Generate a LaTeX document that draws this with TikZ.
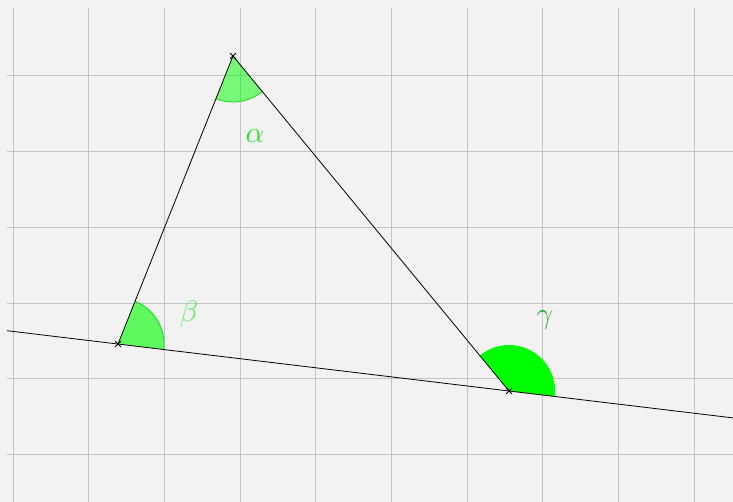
\documentclass[tikz,border=0pt]{standalone}
\usepackage{fix-cm}
\usetikzlibrary{shapes.misc}
\definecolor{bgcol}{RGB}{242,242,242}
\definecolor{gridcol}{RGB}{196,196,196}
\definecolor{alphacol}{RGB}{40,225,40}
\definecolor{betacol}{RGB}{90,240,90}
\definecolor{gammacol}{RGB}{55,170,55}
\definecolor{arccol}{RGB}{30,220,30}
\tikzset{
  gridline/.style={draw=gridcol, line width=1pt},
  edge/.style={draw=black, line width=0.8pt},
  ptmark/.style={cross out, draw=black, line width=0.8pt, minimum size=5pt, inner sep=0pt},
  anglelabel/.style={font=\fontsize{30}{32}\selectfont},
}
\begin{document}
\begin{tikzpicture}[x=1pt,y=-1pt]
\fill[bgcol] (0,0) rectangle (733,502);
\useasboundingbox (0,0) rectangle (733,502);
% grid
\foreach \i in {0,...,9} {
  \draw[gridline] ({13+75.67*\i},8) -- ({13+75.67*\i},502);
}
\foreach \j in {0,...,5} {
  \draw[gridline] (7,{76+75.67*\j}) -- (733,{76+75.67*\j});
}
% points
\coordinate (A) at (233,56);
\coordinate (B) at (118,344);
\coordinate (C) at (509,391);
\coordinate (L1) at (7,330.7);
\coordinate (L2) at (733,417.9);
% angle sectors
\fill[green, fill opacity=0.5] (A) -- ++(50.5:46) arc[start angle=50.5, end angle=111.8, radius=46] -- cycle;
\draw[arccol, line width=0.9pt] (A) ++(50.5:46) arc[start angle=50.5, end angle=111.8, radius=46];
\fill[green, fill opacity=0.6] (B) -- ++(-68.2:46) arc[start angle=-68.2, end angle=6.85, radius=46] -- cycle;
\draw[arccol, line width=0.9pt] (B) ++(-68.2:46) arc[start angle=-68.2, end angle=6.85, radius=46];
\fill[green] (C) -- ++(-129.5:46) arc[start angle=-129.5, end angle=6.85, radius=46] -- cycle;
% lines
\draw[edge] (L1) -- (L2);
\draw[edge] (B) -- (A) -- (C);
% marks
\node[ptmark] (mA) at (A) {};
\node[ptmark] (mB) at (B) {};
\node[ptmark] (mC) at (C) {};
% labels
\node[anglelabel, text=alphacol] (la) at (255,136) {$\alpha$};
\node[anglelabel, text=betacol] (lb) at (189,314) {$\beta$};
\node[anglelabel, text=gammacol] (lg) at (545,320) {$\gamma$};
\end{tikzpicture}
\end{document}
